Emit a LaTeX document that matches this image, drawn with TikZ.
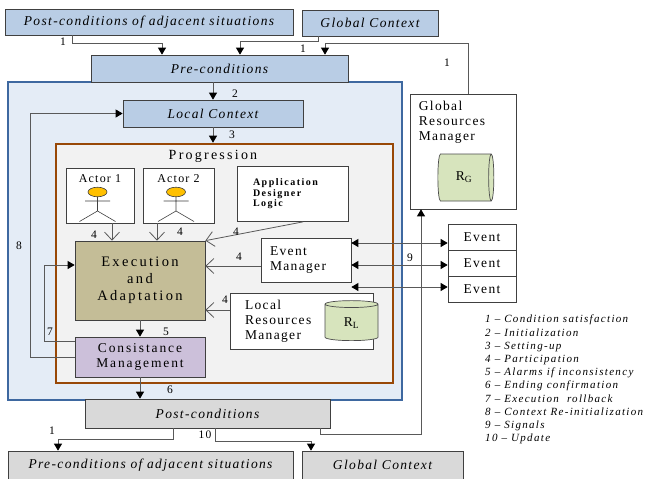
\documentclass[tikz,border=0pt]{standalone}
\usepackage{fontspec}
\setmainfont{Liberation Serif}[LetterSpace=10]
\usetikzlibrary{arrows.meta,shapes.geometric}
\definecolor{paleblue}{RGB}{185,205,229}
\definecolor{sitfill}{RGB}{228,236,246}
\definecolor{sitline}{RGB}{62,104,160}
\definecolor{progline}{RGB}{152,72,7}
\definecolor{progfill}{RGB}{242,242,242}
\definecolor{execfill}{RGB}{196,189,151}
\definecolor{consfill}{RGB}{204,192,218}
\definecolor{postfill}{RGB}{217,217,217}
\definecolor{cylfill}{RGB}{215,228,189}
\definecolor{headfill}{RGB}{255,192,0}
\begin{document}
\begin{tikzpicture}
  [x=1pt, y=-1pt,
    every node/.style={inner sep=1pt},
    box/.style 2 args={draw=black!75, line width=0.7pt, minimum width=#1, minimum height=#2, inner sep=0pt},
    cond/.style={font=\fontsize{13.5}{15}\selectfont\itshape},
    plain/.style={font=\fontsize{13.5}{15}\selectfont},
    big/.style={font=\fontsize{14.5}{17}\selectfont\addfontfeatures{LetterSpace=16}, align=center},
    num/.style={font=\fontsize{11.5}{13}\selectfont},
    flow/.style={draw=black!65, line width=0.8pt, -{Triangle[length=7pt, width=8pt, color=black]}},
    part/.style={draw=black!65, line width=0.8pt, -{Straight Barb[length=8pt, width=15pt]}},
    sig/.style={draw=black!65, line width=0.8pt, {Triangle[length=7pt, width=8pt, color=black]}-{Triangle[length=7pt, width=8pt, color=black]}},
    store/.style={cylinder, draw=black!70, line width=0.7pt, fill=cylfill, font=\fontsize{13.5}{15}\selectfont},
  ]
  \useasboundingbox (0,0) rectangle (646,479);

  \node[box={288}{26}, fill=paleblue, cond] (postadj) at (149,22) {Post-conditions of adjacent situations};
  \node[box={136}{26}, fill=paleblue, cond] (gctop) at (370,23) {Global Context};
  \node[box={394}{318}, draw=sitline, line width=2.4pt, fill=sitfill] (situation) at (205,241) {};
  \node[box={257}{27}, fill=paleblue, cond] (pre) at (219.5,68.5) {Pre-conditions};
  \node[box={180}{27}, fill=paleblue, cond] (local) at (213,113.5) {Local Context};
  \node[box={337}{239}, draw=progline, line width=2.6pt, fill=progfill] (prog) at (224.5,263.5) {};
  \node[big, font=\fontsize{14}{16}\selectfont\addfontfeatures{LetterSpace=16}] (progtitle) at (213,156) {Progression};

  \node[box={68}{55}, fill=white, label={[font=\fontsize{12}{14}\selectfont, anchor=north, yshift=-6pt]north:Actor 1}] (actor1) at (100,195.5) {};
  \node[box={71}{55}, fill=white, label={[font=\fontsize{12}{14}\selectfont, anchor=north, yshift=-6pt]north:Actor 2}] (actor2) at (178.5,195.5) {};
  \foreach \a in {actor1, actor2} {
    \begin{scope}[shift={(\a.center)}, draw=black!75, line width=0.6pt]
      \draw (-2.5,1) -- (-2.5,15.5) (-15,5.5) -- (10,5.5)
        (-20.5,26) -- (-2.5,15.5) -- (15.5,26);
      \draw[fill=headfill] (-2.5,-3.5) ellipse [x radius=9.5, y radius=4.8];
    \end{scope}
  }
  \node[box={111}{55}, fill=white, text width=79pt, inner xsep=16pt, align=left,
    font=\fontsize{10}{10.5}\selectfont\bfseries\addfontfeatures{LetterSpace=15}] (adl) at (292.5,194) {Application\\Designer\\Logic};

  \node[box={130}{79}, fill=execfill, big] (exec) at (140,280.5) {Execution\\and\\Adaptation};
  \node[box={90}{44}, fill=white, plain, text width=72pt, inner xsep=9pt, align=left] (evm) at (306,260) {Event\\Manager};
  \node[box={143}{56}, fill=white, plain, text width=113pt, inner xsep=15pt, align=left] (lrm) at (301.5,321) {Local\\Resources\\Manager};
  \node[store, shape border rotate=90, aspect=0.4, minimum width=53, minimum height=40] (rl) at (351.5,323) {R\textsubscript{L}};
  \node[box={130}{40}, fill=consfill, big, font=\fontsize{13.5}{15}\selectfont\addfontfeatures{LetterSpace=14}] (cm) at (140,357) {Consistance\\Management};

  \node[box={245}{29}, fill=postfill, cond] (post) at (207.5,413.5) {Post-conditions};
  \node[box={285}{28}, fill=postfill, cond] (preadj) at (150.5,465) {Pre-conditions of adjacent situations};
  \node[box={161}{28}, fill=postfill, cond] (gcbot) at (382.5,465) {Global Context};

  \node[box={106}{115}, fill=white] (grm) at (463,151.5) {};
  \node[plain, anchor=north west, align=left] (grmtext) at ([xshift=8pt, yshift=-6pt]grm.north west) {Global\\Resources\\Manager};
  \node[store, aspect=0.4, minimum width=47, minimum height=56] (rg) at (464,177.5) {R\textsubscript{G}};
  \node[box={68}{26}, fill=white, plain] (ev1) at (482,237) {Event};
  \node[box={68}{26}, fill=white, plain] (ev2) at (482,263) {Event};
  \node[box={68}{26}, fill=white, plain] (ev3) at (482,289) {Event};

  \draw[flow] ([xshift=-77pt]postadj.south) -- ++(0,8) -| ([xshift=-57.5pt]pre.north);
  \draw[flow] ([xshift=-52pt]gctop.south) -- ++(0,5) -| ([xshift=20.5pt]pre.north);
  \draw[flow] ([xshift=5pt]grm.north) -- ++(0,-50) -| ([xshift=105.5pt]pre.north);
  \draw[flow] (pre.south -| local.north) -- (local.north);
  \draw[flow] (local.south) -- (local.south |- prog.north);
  \draw[part] ([xshift=12pt]actor1.south) -- ([xshift=12pt]actor1.south |- exec.north);
  \draw[part] ([xshift=-21.5pt]actor2.south) -- ([xshift=-21.5pt]actor2.south |- exec.north);
  \draw[part] ([xshift=10.5pt]adl.south) -- (exec.north east);
  \draw[part] ([yshift=-6pt]evm.west) -- ([yshift=-6pt]evm.west -| exec.east);
  \draw[part] ([yshift=11pt]lrm.west) -- ([yshift=11pt]lrm.west -| exec.east);
  \draw[flow] (exec.south) -- (cm.north);
  \draw[flow] ([yshift=16pt]cm.west) -- ++(-30,0) |- ([yshift=15.5pt]exec.west);
  \draw[flow] (cm.west) -- ++(-44,0) |- (local.west);
  \draw[flow] (cm.south) -- (cm.south |- post.north);
  \draw[flow] ([xshift=-34.5pt]post.south) -- ++(0,11) -| ([xshift=-92.5pt]preadj.north);
  \draw[flow] ([xshift=7.5pt]post.south) -- ++(0,13) -| ([xshift=-71.5pt]gcbot.north);
  \draw[flow] ([xshift=112.5pt]post.south) -- ++(0,6) -| ([xshift=-42pt]grm.south);
  \foreach \s/\e in {17/ev1, -5/ev2, -27/ev3}
    \draw[sig] ([yshift=\s pt]evm.east) -- ([yshift=\s pt]evm.east -| \e.west);

  \node[num] (n1a) at (63,42) {1};
  \node[num] (n1b) at (303,49) {1};
  \node[num] (n1c) at (447,63) {1};
  \node[num] (n2) at (235,94) {2};
  \node[num] (n3) at (232,135) {3};
  \node[num] (n4a) at (94,235) {4};
  \node[num] (n4b) at (180,232) {4};
  \node[num] (n4c) at (236,232) {4};
  \node[num] (n4d) at (239,257) {4};
  \node[num] (n4e) at (225,300) {4};
  \node[num] (n5) at (166,332) {5};
  \node[num] (n7) at (50,332) {7};
  \node[num] (n8) at (19,246) {8};
  \node[num] (n6) at (170,390) {6};
  \node[num] (n9) at (410,258) {9};
  \node[num] (n1d) at (52,431) {1};
  \node[num] (n10) at (205,435) {10};

  \node[anchor=north west, align=left, font=\fontsize{11}{13.2}\selectfont\itshape\addfontfeatures{LetterSpace=12}] (legend) at (484,314)
    {1 -- Condition satisfaction\\2 -- Initialization\\3 -- Setting-up\\4 -- Participation\\
     5 -- Alarms if inconsistency\\6 -- Ending confirmation\\7 -- Execution\ \ rollback\\
     8 -- Context Re-initialization\\9 -- Signals\\10 -- Update};
\end{tikzpicture}
\end{document}
